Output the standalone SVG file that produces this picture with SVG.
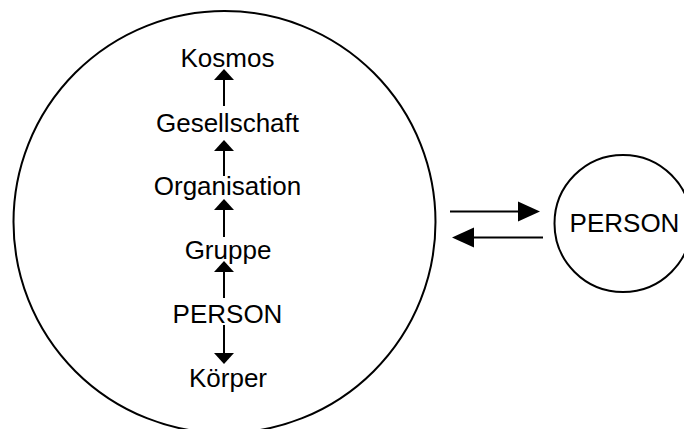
<svg xmlns="http://www.w3.org/2000/svg" width="684" height="429" viewBox="0 0 684 429">
<style>
  .c { fill: #fff; stroke: #000; stroke-width: 2; }
  .t { font-family: "Liberation Sans", Arial, sans-serif; font-size: 26px; fill: #000; text-anchor: middle; }
  .l { stroke: #000; stroke-width: 2; fill: none; }
  .a { fill: #000; stroke: none; }
</style>
<rect width="684" height="429" fill="#fff"/>
<g id="world">
  <circle class="c" cx="224.5" cy="222" r="211"/>
</g>
<g id="person-right">
  <circle class="c" cx="623" cy="223.5" r="68.5"/>
  <text class="t" x="624.5" y="231.5">PERSON</text>
</g>
<g id="kosmos"><text class="t" x="227.5" y="67">Kosmos</text></g>
<g id="gesellschaft"><text class="t" x="227.5" y="131.5">Gesellschaft</text></g>
<g id="organisation"><text class="t" x="227.5" y="195">Organisation</text></g>
<g id="gruppe"><text class="t" x="228" y="259">Gruppe</text></g>
<g id="person"><text class="t" x="227.5" y="323">PERSON</text></g>
<g id="koerper"><text class="t" x="228" y="386.5">Körper</text></g>
<g id="connectors">
  <line class="l" x1="224" y1="106" x2="224" y2="80"/>
  <polygon class="a" points="214,80 234,80 224,69"/>
  <line class="l" x1="224" y1="176" x2="224" y2="151"/>
  <polygon class="a" points="214,151 234,151 224,140"/>
  <line class="l" x1="224" y1="237" x2="224" y2="210"/>
  <polygon class="a" points="214,210 234,210 224,199"/>
  <line class="l" x1="224" y1="298" x2="224" y2="272"/>
  <polygon class="a" points="214,272 234,272 224,261"/>
  <line class="l" x1="224" y1="325" x2="224" y2="353"/>
  <polygon class="a" points="214,353 234,353 224,364"/>
  <line class="l" x1="450" y1="211.5" x2="518" y2="211.5"/>
  <polygon class="a" points="518,201.5 518,221.5 540,211.5"/>
  <line class="l" x1="543" y1="237.5" x2="474" y2="237.5"/>
  <polygon class="a" points="474,227.5 474,247.5 452,237.5"/>
</g>
</svg>
